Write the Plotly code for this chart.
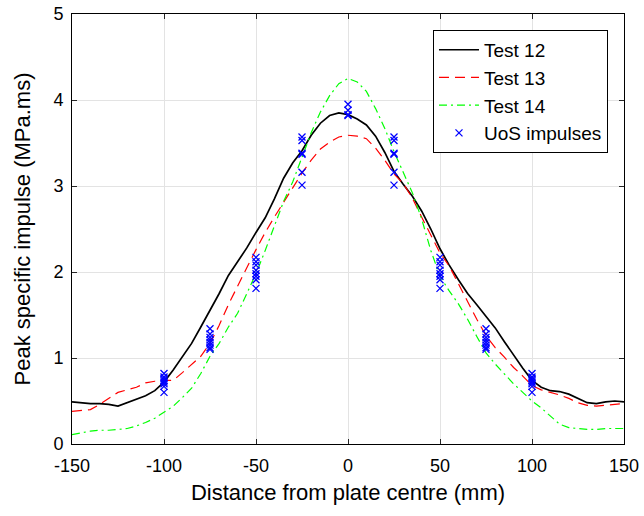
import plotly.graph_objects as go

# distance from plate centre (mm)
x_curve = [-150, -145, -140, -135, -130, -125, -120, -115, -110, -105, -100, -95, -90, -85, -80,
           -75, -70, -65, -60, -55, -50, -45, -40, -35, -30, -25, -20, -15, -10, -5, 0,
           5, 10, 15, 20, 25, 30, 35, 40, 45, 50, 55, 60, 65, 70, 75, 80, 85, 90, 95, 100,
           105, 110, 115, 120, 125, 130, 135, 140, 145, 150]

test12 = [0.49, 0.48, 0.47, 0.47, 0.46, 0.44, 0.48, 0.52, 0.56, 0.62, 0.72, 0.86, 1.01, 1.17, 1.36,
          1.55, 1.75, 1.96, 2.12, 2.28, 2.46, 2.63, 2.85, 3.09, 3.27, 3.41, 3.59, 3.73, 3.82, 3.85, 3.83,
          3.78, 3.71, 3.58, 3.39, 3.17, 3.02, 2.88, 2.71, 2.50, 2.27, 2.08, 1.91, 1.75, 1.62, 1.49,
          1.35, 1.19, 1.03, 0.88, 0.74, 0.66, 0.62, 0.61, 0.58, 0.53, 0.48, 0.47, 0.49, 0.50, 0.49]

test13 = [0.38, 0.39, 0.40, 0.46, 0.53, 0.60, 0.63, 0.66, 0.71, 0.73, 0.74, 0.74, 0.83, 0.92, 1.02,
          1.17, 1.38, 1.62, 1.84, 2.05, 2.26, 2.46, 2.64, 2.81, 2.98, 3.15, 3.30, 3.43, 3.51, 3.57, 3.59,
          3.58, 3.55, 3.44, 3.30, 3.14, 3.03, 2.86, 2.64, 2.43, 2.22, 2.07, 1.86, 1.65, 1.45, 1.26,
          1.12, 1.01, 0.89, 0.79, 0.68, 0.63, 0.60, 0.57, 0.53, 0.48, 0.45, 0.44, 0.45, 0.46, 0.47]

test14 = [0.11, 0.13, 0.15, 0.16, 0.16, 0.17, 0.18, 0.21, 0.25, 0.30, 0.37, 0.44, 0.54, 0.65, 0.82,
          1.02, 1.17, 1.36, 1.52, 1.75, 1.98, 2.25, 2.53, 2.82, 3.05, 3.33, 3.62, 3.86, 4.05, 4.19, 4.25,
          4.21, 4.10, 3.90, 3.67, 3.40, 3.16, 2.92, 2.62, 2.25, 1.95, 1.78, 1.63, 1.45, 1.25, 1.06,
          0.93, 0.81, 0.70, 0.60, 0.50, 0.42, 0.33, 0.23, 0.19, 0.18, 0.17, 0.17, 0.18, 0.18, 0.18]

# UoS impulses
uos_x = ([-100] * 8 + [-75] * 8 + [-50] * 8 + [-25] * 6 + [0] * 4 +
         [25] * 6 + [50] * 8 + [75] * 8 + [100] * 8)
uos_y = [0.82, 0.78, 0.76, 0.74, 0.72, 0.70, 0.67, 0.60,
         1.34, 1.28, 1.24, 1.21, 1.18, 1.15, 1.12, 1.10,
         2.17, 2.12, 2.08, 2.02, 1.98, 1.95, 1.91, 1.81,
         3.57, 3.53, 3.38, 3.37, 3.16, 3.01,
         3.95, 3.88, 3.82, 3.83,
         3.57, 3.53, 3.38, 3.37, 3.16, 3.01,
         2.17, 2.12, 2.08, 2.02, 1.98, 1.95, 1.91, 1.81,
         1.34, 1.28, 1.24, 1.21, 1.18, 1.15, 1.12, 1.10,
         0.82, 0.78, 0.76, 0.74, 0.72, 0.70, 0.67, 0.60]

x_ticks = [-150, -100, -50, 0, 50, 100, 150]
y_ticks = [0, 1, 2, 3, 4, 5]

FONT = "Liberation Sans, Arial, Helvetica, sans-serif"

fig = go.Figure()
fig.add_trace(go.Scatter(x=x_curve, y=test12, mode="lines", name="Test 12",
                         line=dict(color="#000000", width=1.7)))
fig.add_trace(go.Scatter(x=x_curve, y=test13, mode="lines", name="Test 13",
                         line=dict(color="#FF0000", width=1.2, dash="10px,6px")))
fig.add_trace(go.Scatter(x=x_curve, y=test14, mode="lines", name="Test 14",
                         line=dict(color="#00FF00", width=1.2, dash="8px,4px,2px,4px")))
fig.add_trace(go.Scatter(x=uos_x, y=uos_y, mode="markers", name="UoS impulses",
                         marker=dict(symbol="x-thin-open", size=7, color="#0000FF",
                                     line=dict(color="#0000FF", width=1.3))))

axis_common = dict(showgrid=True, gridcolor="#e3e3e3", gridwidth=1,
                   showline=True, linecolor="#000000", linewidth=1, mirror="ticks",
                   ticks="inside", ticklen=5, tickcolor="#262626", zeroline=False,
                   automargin=False,
                   tickfont=dict(family=FONT, size=18, color="#000000"))

fig.update_layout(
    width=644, height=516,
    margin=dict(l=72, r=20, t=14, b=72),
    paper_bgcolor="white", plot_bgcolor="white",
    font=dict(family=FONT, color="#000000"),
    showlegend=True,
    legend=dict(x=0.971, y=0.963, xanchor="right", yanchor="top",
                bgcolor="white", bordercolor="#000000", borderwidth=1,
                font=dict(family=FONT, size=19, color="#000000"),
                tracegroupgap=0, itemwidth=40),
    xaxis=dict(range=[-150, 150], tickvals=x_ticks, ticktext=[str(v) for v in x_ticks],
               ticklabelstandoff=5,
               title=dict(text="Distance from plate centre (mm)", standoff=10,
                          font=dict(family=FONT, size=22, color="#000000")),
               **axis_common),
    yaxis=dict(range=[0, 5], tickvals=y_ticks, ticktext=[str(v) for v in y_ticks],
               ticklabelstandoff=4,
               title=dict(text="Peak specific impulse (MPa.ms)", standoff=16,
                          font=dict(family=FONT, size=22, color="#000000")),
               **axis_common),
)

# remove the default page margin so the figure fills the window exactly
fig.write_html("out.html", config={"displayModeBar": False},
               post_script="document.body.style.margin='0';")
